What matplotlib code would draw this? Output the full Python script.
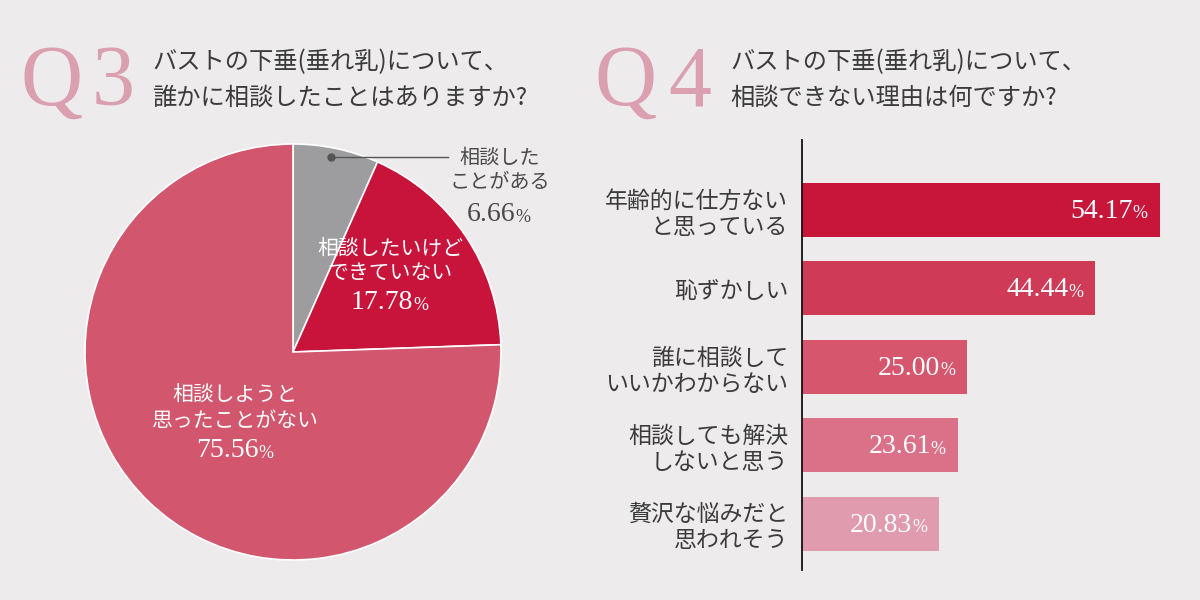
import matplotlib.pyplot as plt
import matplotlib.transforms as mtransforms

plt.rcParams['font.family'] = ['Noto Sans CJK JP', 'DejaVu Sans']

# Q3 pie data
pie_labels = ['相談した\nことがある', '相談したいけど\nできていない', '相談しようと\n思ったことがない']
pie_values = [6.66, 17.78, 75.56]
pie_colors = ['#9d9d9f', '#c8143a', '#d2566d']

# Q4 bar data
bar_labels = ['年齢的に仕方ない\nと思っている', '恥ずかしい', '誰に相談して\nいいかわからない',
              '相談しても解決\nしないと思う', '贅沢な悩みだと\n思われそう']
bar_values = [54.17, 44.44, 25.00, 23.61, 20.83]
bar_colors = ['#c8163a', '#cf3a56', '#d5566d', '#db7189', '#e09bae']

BG = '#eeebed'
TXT = '#3b3b3b'
QCOL = '#daa0b0'
W, H = 1200, 600

fig = plt.figure(figsize=(12, 6), dpi=100, facecolor=BG)


def fx(x):
    return x / W


def fy(y):
    return 1 - y / H


def num_label(ax, x, y, value, size, pct_size, transform, ha='center', color='white'):
    t = ax.text(x, y, f'{value:.2f}', transform=transform, ha=ha, va='bottom',
                color=color, fontsize=size, family='Liberation Serif')
    ax.annotate('%', xy=(1, 0.06), xycoords=t, ha='left', va='bottom',
                color=color, fontsize=pct_size, family='Liberation Serif')
    return t


# ---- titles ----
titles = [
    (20, 92, 'Q', '3', 152, ['バストの下垂(垂れ乳)について、', '誰かに相談したことはありますか?']),
    (594, 668, 'Q', '4', 730, ['バストの下垂(垂れ乳)について、', '相談できない理由は何ですか?']),
]
for qx, nx, q, n, tx, lines in titles:
    fig.text(fx(qx), fy(105), q, color=QCOL, fontsize=62, family='Liberation Serif',
             ha='left', va='baseline')
    fig.text(fx(nx), fy(105), n, color=QCOL, fontsize=62, family='Liberation Serif',
             ha='left', va='baseline')
    fig.text(fx(tx), fy(62), lines[0], color=TXT, fontsize=17.5, ha='left', va='center')
    fig.text(fx(tx), fy(98), lines[1], color=TXT, fontsize=17.5, ha='left', va='center')

# ---- pie ----
cx, cy, r = 293, 352, 208
axp = fig.add_axes([fx(cx - r), fy(cy + r), 2 * r / W, 2 * r / H])
axp.pie(pie_values, colors=pie_colors, startangle=90, counterclock=False,
        wedgeprops=dict(edgecolor='white', linewidth=1.2))
axp.set_xlim(-1, 1)
axp.set_ylim(-1, 1)
axp.set_aspect('equal')
axp.axis('off')

# leader for small slice
axp.plot([0.183, 0.745], [0.9375, 0.9375], color='#555555', lw=1, clip_on=False)
axp.plot([0.183], [0.9375], 'o', color='#555555', ms=5, clip_on=False)

fig.text(fx(500), fy(170), pie_labels[0], color='#4a4a4a', fontsize=14.5, ha='center',
         va='center', linespacing=1.2)
num_label(axp, fx(491), fy(227), pie_values[0], 20, 13, fig.transFigure, color='#4a4a4a')

fig.text(fx(390), fy(261), pie_labels[1], color='white', fontsize=15, ha='center',
         va='center', linespacing=1.15)
num_label(axp, fx(382), fy(315), pie_values[1], 20, 13, fig.transFigure)

fig.text(fx(235), fy(408), pie_labels[2], color='white', fontsize=15, ha='center',
         va='center', linespacing=1.25)
num_label(axp, fx(227), fy(463), pie_values[2], 20, 13, fig.transFigure)

# ---- bars ----
x0, px_per = 802, 6.6
top, bot = 140, 570
first_c, step = 210, 78.4
axb = fig.add_axes([fx(x0), fy(bot), (W - x0) / W, (bot - top) / H])
axb.set_facecolor('none')
ypos = list(range(len(bar_values)))
axb.barh(ypos, bar_values, height=54 / step, color=bar_colors)
axb.set_xlim(0, (W - x0) / px_per)
axb.set_ylim(len(bar_values) - 1 + (bot - (first_c + step * (len(bar_values) - 1))) / step,
             -(first_c - top) / step)
for s in ['top', 'right', 'bottom']:
    axb.spines[s].set_visible(False)
axb.spines['left'].set_color('#111111')
axb.spines['left'].set_linewidth(1.3)
axb.set_xticks([])
axb.set_yticks(ypos)
axb.set_yticklabels(bar_labels, fontsize=16.5, color=TXT, linespacing=1.18)
axb.tick_params(axis='y', length=0, pad=10)

off = mtransforms.offset_copy(axb.transData, fig=fig, x=-27, y=-14, units='dots')
for i, v in enumerate(bar_values):
    num_label(axb, v, i, v, 20, 13, off, ha='right')

fig.savefig('out.png', dpi=100, facecolor=BG)
